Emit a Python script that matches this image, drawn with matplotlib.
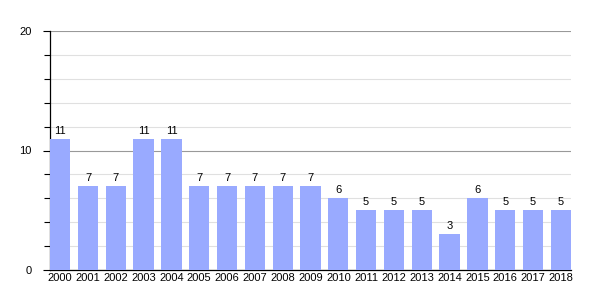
import matplotlib
matplotlib.use("Agg")
import matplotlib.pyplot as plt
from matplotlib.ticker import MultipleLocator

plt.rcParams["font.family"] = ["Liberation Sans", "DejaVu Sans"]

years = [str(y) for y in range(2000, 2019)]
values = [11, 7, 7, 11, 11, 7, 7, 7, 7, 7, 6, 5, 5, 5, 3, 6, 5, 5, 5]

fig = plt.figure(figsize=(6, 3), dpi=100)
ax = fig.add_axes([50 / 600, 30 / 300, 521 / 600, 239 / 300])

x = range(len(years))
bars = ax.bar(x, values, width=0.73, color="#99aaff", zorder=3)
for xi, v in zip(x, values):
    ax.text(xi, v + 0.25, str(v), ha="center", va="bottom", fontsize=8)

ax.set_xlim(-0.365, len(years) - 0.635)
ax.set_ylim(0, 20)
ax.set_xticks(list(x))
ax.set_xticklabels(years, fontsize=8)
ax.yaxis.set_major_locator(MultipleLocator(10))
ax.yaxis.set_minor_locator(MultipleLocator(2))
ax.tick_params(axis="y", which="major", labelsize=8, length=5, width=0.8, pad=8)
ax.tick_params(axis="y", which="minor", length=4, width=0.8)
ax.tick_params(axis="x", length=0, pad=2)
ax.grid(axis="y", which="major", color="#999999", linewidth=0.8, zorder=0)
ax.grid(axis="y", which="minor", color="#e0e0e0", linewidth=0.8, zorder=0)
for s in ["top", "right"]:
    ax.spines[s].set_visible(False)
ax.spines["left"].set_linewidth(0.9)
ax.spines["bottom"].set_linewidth(0.9)

fig.savefig("out.png", dpi=100)
